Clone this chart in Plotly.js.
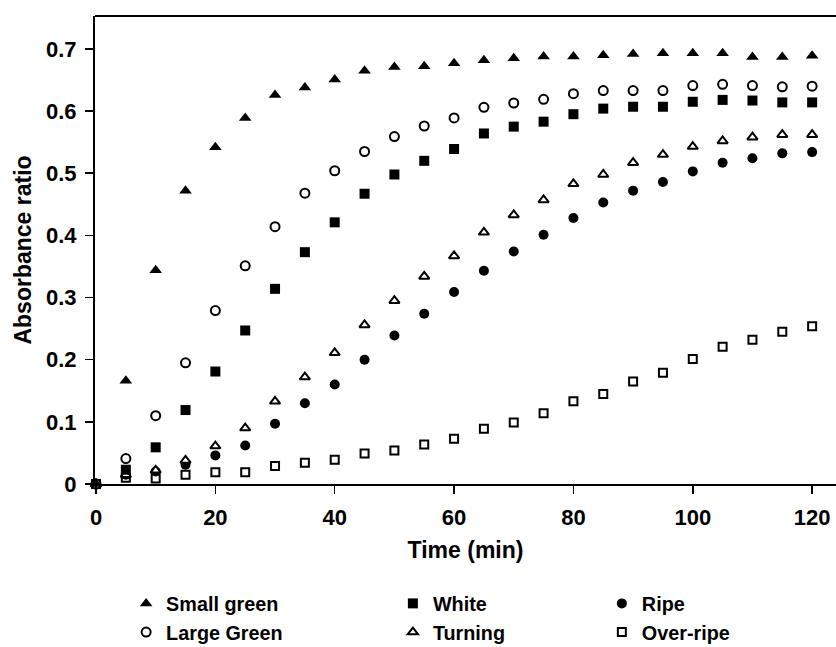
<!DOCTYPE html>
<html>
<head>
<meta charset="utf-8">
<script src="https://cdn.plot.ly/plotly-3.0.1.min.js"></script>
<style>html,body{margin:0;padding:0;background:#fff;}#chart{width:836px;height:647px;}</style>
</head>
<body>
<div id="chart"></div>
<script>
var time = [0,5,10,15,20,25,30,35,40,45,50,55,60,65,70,75,80,85,90,95,100,105,110,115,120];
var smallGreen = [0,0.166,0.344,0.472,0.542,0.589,0.626,0.638,0.651,0.665,0.671,0.672,0.677,0.682,0.685,0.688,0.688,0.690,0.692,0.693,0.693,0.693,0.687,0.687,0.689];
var largeGreen = [0,0.041,0.110,0.195,0.279,0.351,0.414,0.468,0.504,0.535,0.559,0.576,0.589,0.606,0.613,0.619,0.628,0.633,0.633,0.633,0.641,0.643,0.641,0.639,0.640];
var white = [0,0.023,0.059,0.119,0.181,0.247,0.314,0.373,0.421,0.467,0.498,0.520,0.539,0.564,0.575,0.583,0.595,0.604,0.607,0.607,0.615,0.618,0.617,0.614,0.614];
var turning = [0,0.015,0.022,0.038,0.061,0.090,0.133,0.172,0.211,0.256,0.295,0.334,0.367,0.405,0.433,0.457,0.483,0.498,0.517,0.530,0.543,0.552,0.558,0.562,0.562];
var ripe = [0,0.015,0.020,0.031,0.046,0.062,0.097,0.130,0.160,0.200,0.239,0.274,0.309,0.343,0.374,0.401,0.428,0.453,0.472,0.486,0.503,0.517,0.524,0.532,0.534];
var overRipe = [0,0.010,0.009,0.015,0.019,0.019,0.029,0.034,0.039,0.049,0.054,0.0635,0.073,0.089,0.099,0.114,0.133,0.145,0.165,0.179,0.201,0.221,0.232,0.245,0.254];
var yTicks = [0,0.1,0.2,0.3,0.4,0.5,0.6,0.7];
var xTicks = [0,20,40,60,80,100,120];

function tr(name, y, symbol, filled, size, legend, rank) {
  return {
    x: time, y: y, name: name, type: 'scatter', mode: 'markers',
    cliponaxis: false, legend: legend, legendrank: rank,
    marker: {
      symbol: symbol, size: size,
      color: filled ? '#000' : '#fff',
      line: {color: '#000', width: filled ? 0 : 2}
    }
  };
}

var data = [
  tr('Over-ripe', overRipe, 'square', false, 8, 'legend3', 2),
  tr('Ripe', ripe, 'circle', true, 10, 'legend3', 1),
  tr('Turning', turning, 'triangle-up', false, 9, 'legend2', 2),
  tr('White', white, 'square', true, 10, 'legend2', 1),
  tr('Large Green', largeGreen, 'circle', false, 9, 'legend', 2),
  tr('Small green', smallGreen, 'triangle-up', true, 11, 'legend', 1)
];

var tfnt = {family: 'Liberation Sans, Arial, sans-serif', size: 22, color: '#000', weight: 'bold'};
var afnt = {family: 'Liberation Sans, Arial, sans-serif', size: 23, color: '#000', weight: 'bold'};
var lfnt = {family: 'Liberation Sans, Arial, sans-serif', size: 19.8, color: '#000', weight: 'bold'};
function leg(x) {
  return {x: x, y: -0.2137, xanchor: 'left', yanchor: 'top',
          orientation: 'v', font: lfnt, bgcolor: 'rgba(0,0,0,0)', borderwidth: 0,
          itemsizing: 'trace', tracegroupgap: 0};
}

var layout = {
  width: 836, height: 647,
  margin: {l: 95, r: 0, t: 16, b: 162.5, pad: 0, autoexpand: false},
  paper_bgcolor: '#fff', plot_bgcolor: '#fff',
  showlegend: true,
  font: tfnt,
  xaxis: {
    range: [-0.17, 124.0], tickvals: xTicks, ticktext: xTicks.map(String),
    showgrid: false, zeroline: false, showline: true, linecolor: '#000', linewidth: 2,
    ticks: 'outside', ticklen: 8, tickwidth: 1.5, tickcolor: '#000',
    tickfont: tfnt, ticklabelstandoff: 5, automargin: true,
    title: {text: 'Time (min)', font: afnt, standoff: 12}
  },
  yaxis: {
    range: [0, 0.753], tickvals: yTicks, ticktext: yTicks.map(function(v){return v===0?'0':v.toFixed(1);}),
    showgrid: false, zeroline: false, showline: true, linecolor: '#000', linewidth: 2,
    ticks: 'outside', ticklen: 8, tickwidth: 1.5, tickcolor: '#000',
    tickfont: tfnt, ticklabelstandoff: 4, automargin: true,
    title: {text: 'Absorbance ratio', font: afnt, standoff: 8}
  },
  legend: leg(0.042),
  legend2: leg(0.402),
  legend3: leg(0.684),
  shapes: [
    {type: 'line', xref: 'paper', yref: 'paper', x0: 0, x1: 1, y0: 1, y1: 1,
     line: {color: '#000', width: 2}}
  ]
};

Plotly.newPlot('chart', data, layout, {displayModeBar: false, staticPlot: true});
</script>
</body>
</html>
